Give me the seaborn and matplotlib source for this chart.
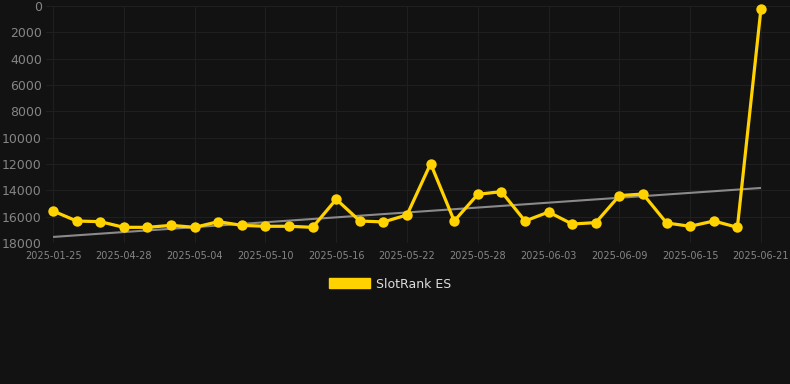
import numpy as np
import pandas as pd
import matplotlib
matplotlib.use("Agg")
import matplotlib.pyplot as plt
import seaborn as sns
from matplotlib.patches import Patch

dates = ["2025-01-25", "2025-04-24", "2025-04-26", "2025-04-28", "2025-04-30", "2025-05-02",
         "2025-05-04", "2025-05-06", "2025-05-08", "2025-05-10", "2025-05-12", "2025-05-14",
         "2025-05-16", "2025-05-18", "2025-05-20", "2025-05-22", "2025-05-24", "2025-05-26",
         "2025-05-28", "2025-05-30", "2025-06-01", "2025-06-03", "2025-06-05", "2025-06-07",
         "2025-06-09", "2025-06-11", "2025-06-13", "2025-06-15", "2025-06-17", "2025-06-19",
         "2025-06-21"]
rank = [15570, 16330, 16380, 16810, 16810, 16660, 16810, 16380, 16660, 16730, 16730, 16810,
        14680, 16330, 16400, 15870, 11970, 16330, 14300, 14100, 16330, 15650, 16560, 16450,
        14400, 14280, 16480, 16730, 16330, 16810, 200]
trend_ends = [17540, 13820]
y_ticks = [0, 2000, 4000, 6000, 8000, 10000, 12000, 14000, 16000, 18000]
series_name = "SlotRank ES"

bg = "#121212"
gold = "#FFD200"

sns.set_theme(style="dark")
fig = plt.figure(figsize=(7.9, 3.84), dpi=100, facecolor=bg)
ax = fig.add_axes([46 / 790, 141 / 384, 744 / 790, 237 / 384])
ax.set_facecolor(bg)

df = pd.DataFrame({"i": np.arange(len(rank)), "rank": rank})

# trend line
ax.plot([0, len(rank) - 1], trend_ends, color="#8a8a8a", lw=1.5, zorder=2, solid_capstyle="butt")

sns.lineplot(data=df, x="i", y="rank", ax=ax, color=gold, lw=2.3, marker="o",
             markersize=7.5, markeredgewidth=0, zorder=3, clip_on=False)

ax.set_xlim(-0.30, 31.23)
ax.set_ylim(18000, 0)
ax.set_yticks(y_ticks)
ax.set_yticklabels([str(v) for v in y_ticks])
tick_idx = list(range(0, len(dates), 3))
ax.set_xticks(tick_idx)
ax.set_xticklabels([dates[i] for i in tick_idx])

ax.grid(True, color="#1f1f1f", lw=0.8)
for s in ax.spines.values():
    s.set_visible(False)
ax.tick_params(axis="y", colors="#858585", labelsize=9, length=0, pad=3)
ax.tick_params(axis="x", colors="#858585", labelsize=7, length=0, pad=6)
ax.set_xlabel("")
ax.set_ylabel("")

handle = Patch(facecolor=gold, edgecolor=gold)
leg = fig.legend([handle], [series_name], loc="center", bbox_to_anchor=(390 / 790, 1 - 284 / 384),
                 frameon=False, handlelength=3.3, handleheight=0.9, handletextpad=0.5,
                 fontsize=9)
for t in leg.get_texts():
    t.set_color("#dddddd")

fig.savefig("out.png", dpi=100, facecolor=bg)
